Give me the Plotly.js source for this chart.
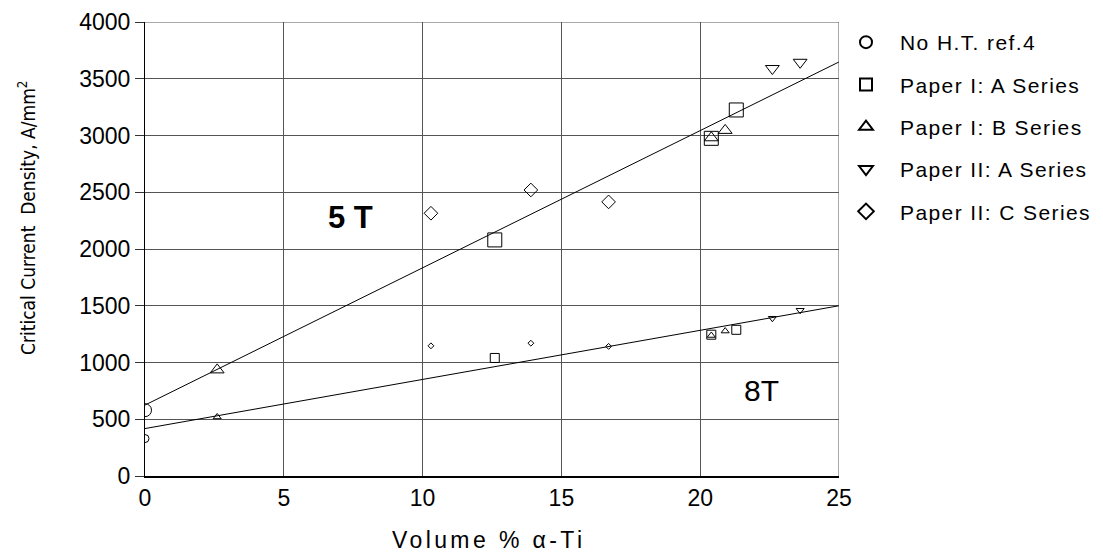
<!DOCTYPE html>
<html>
<head>
<meta charset="utf-8">
<script src="https://cdn.plot.ly/plotly-3.0.1.min.js"></script>
<style>html,body{margin:0;padding:0;background:#fff;}#chart{width:1103px;height:554px;}</style>
</head>
<body>
<div id="chart"></div>
<script>
// Series names (legend order)
const seriesNames = ["No H.T. ref.4", "Paper I: A Series", "Paper I: B Series", "Paper II: A Series", "Paper II: C Series"];
const seriesSymbols = ["circle-open", "square-open", "triangle-up-open", "triangle-down-open", "diamond-open"];

// Volume % alpha-Ti for each series
const xNoHT = [0];
const xPaperIA = [12.6, 20.4, 21.3];
const xPaperIB = [2.6, 20.4, 20.9];
const xPaperIIA = [22.6, 23.6];
const xPaperIIC = [10.3, 13.9, 16.7];

// Critical current density at 5 T (A/mm^2)
const jc5NoHT = [580];
const jc5PaperIA = [2080, 2975, 3225];
const jc5PaperIB = [935, 2980, 3045];
const jc5PaperIIA = [3590, 3645];
const jc5PaperIIC = [2315, 2520, 2415];

// Critical current density at 8 T (A/mm^2)
const jc8NoHT = [330];
const jc8PaperIA = [1040, 1245, 1288];
const jc8PaperIB = [520, 1238, 1277];
const jc8PaperIIA = [1390, 1460];
const jc8PaperIIC = [1147, 1170, 1142];

// Fitted trend lines (endpoints)
const fitX = [0, 25];
const fit5T = [625, 3648];
const fit8T = [418, 1500];

const xs = [xNoHT, xPaperIA, xPaperIB, xPaperIIA, xPaperIIC];
const y5 = [jc5NoHT, jc5PaperIA, jc5PaperIB, jc5PaperIIA, jc5PaperIIC];
const y8 = [jc8NoHT, jc8PaperIA, jc8PaperIB, jc8PaperIIA, jc8PaperIIC];
const bigSizes = [13, 14, 12, 12, 10.5];
const smallSizes = [8, 9, 7, 7, 4.5];

const traces = [];
traces.push({x: fitX, y: fit5T, mode: "lines", line: {color: "#000", width: 1}, showlegend: false, hoverinfo: "skip"});
traces.push({x: fitX, y: fit8T, mode: "lines", line: {color: "#000", width: 1}, showlegend: false, hoverinfo: "skip"});
for (let i = 0; i < seriesNames.length; i++) {
  traces.push({
    x: xs[i], y: y5[i], mode: "markers",
    name: '<span style="letter-spacing:1.4px">' + seriesNames[i] + '</span>', legendgroup: "g" + i,
    marker: {symbol: seriesSymbols[i], size: bigSizes[i], color: "#000", line: {width: 1, color: "#000"}}
  });
  traces.push({
    x: xs[i], y: y8[i], mode: "markers", name: seriesNames[i], legendgroup: "g" + i, showlegend: false,
    marker: {symbol: seriesSymbols[i], size: smallSizes[i], color: "#000", line: {width: 1, color: "#000"}}
  });
}

// page geometry (pixels)
const W = 1103, H = 554, ML = 145, MR = 4, MT = 22, MB = 78;
const plotRight = 839;
const paperW = W - ML - MR, paperH = H - MT - MB;
const toPaper = (px, py) => [(px - ML) / paperW, (H - MB - py) / paperH];

const font = "Arial, 'Liberation Sans', sans-serif";
const layout = {
  width: W, height: H,
  margin: {l: ML, r: MR, t: MT, b: MB},
  paper_bgcolor: "#fff", plot_bgcolor: "#fff",
  font: {family: font, color: "#000", size: 21},
  showlegend: true,
  legend: {
    x: toPaper(832, 0)[0], xanchor: "left", y: 1, yanchor: "top",
    font: {family: font, size: 21, color: "#000"},
    traceorder: "grouped", tracegroupgap: 12, itemsizing: "constant", itemwidth: 58,
    bgcolor: "rgba(0,0,0,0)"
  },
  xaxis: {
    domain: [0, (plotRight - ML) / paperW],
    range: [0, 25], dtick: 5, tick0: 0, showgrid: true, gridcolor: "#555", gridwidth: 1,
    zeroline: false, showline: true, linecolor: "#000", linewidth: 2,
    ticks: "", tickfont: {size: 23, family: font}, ticklabelstandoff: 0,
    fixedrange: true
  },
  yaxis: {
    range: [0, 4000], dtick: 500, tick0: 0, showgrid: true, gridcolor: "#555", gridwidth: 1,
    zeroline: false, showline: true, linecolor: "#000", linewidth: 1,
    ticks: "outside", ticklen: 9, tickcolor: "#333", tickfont: {size: 23, family: font},
    fixedrange: true
  },
  shapes: [
    {type: "line", xref: "x", yref: "y", x0: 25, x1: 25, y0: 0, y1: 4000, line: {color: "#555", width: 1}},
    {type: "line", xref: "x", yref: "y", x0: 0, x1: 25, y0: 4000, y1: 4000, line: {color: "#555", width: 1}}
  ],
  annotations: [
    {x: 7.39, y: 2274, xref: "x", yref: "y", text: "<b>5 T</b>", showarrow: false, font: {size: 31, family: font}},
    {x: 22.2, y: 756, xref: "x", yref: "y", text: "8T", showarrow: false, font: {size: 30, family: font}},
    {x: toPaper(488, 540)[0], y: toPaper(488, 540)[1], xref: "paper", yref: "paper", xanchor: "center", yanchor: "middle",
     text: '<span style="letter-spacing:3.4px">Volume % α-Ti</span>', showarrow: false, font: {size: 23, family: font}},
    {x: toPaper(27, 218)[0], y: toPaper(27, 218)[1], xref: "paper", yref: "paper", xanchor: "center", yanchor: "middle", textangle: -90,
     text: "Critical Current  Density, A/mm<sup>2</sup>", showarrow: false,
     font: {size: 19, family: "'DejaVu Sans Condensed', 'Liberation Sans Narrow', Arial, sans-serif"}}
  ]
};
Plotly.newPlot("chart", traces, layout, {displayModeBar: false, staticPlot: true});
</script>
</body>
</html>
